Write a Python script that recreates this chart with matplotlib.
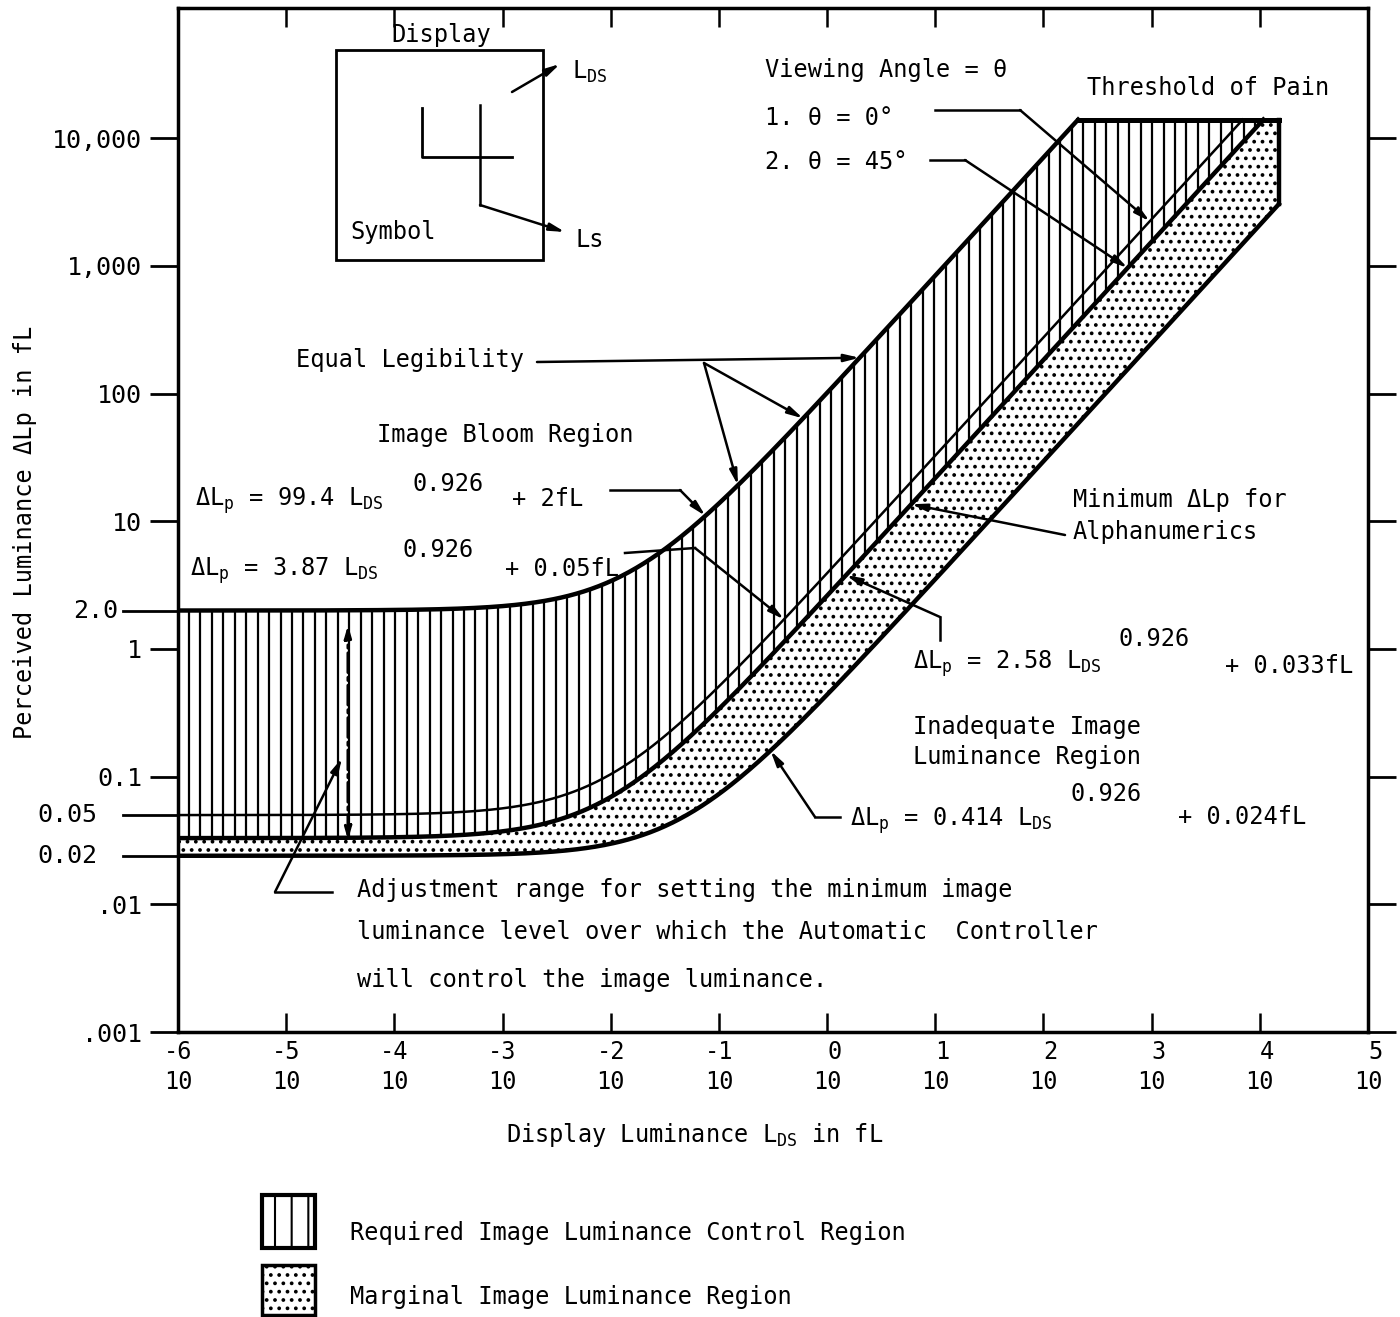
import numpy as np
import matplotlib
matplotlib.use("Agg")
import matplotlib.pyplot as plt
from matplotlib.patches import Rectangle
from matplotlib.ticker import NullLocator

# dLp = coef * Lds ** exponent + base   (fL)
exponent = 0.926
coef_bloom, base_bloom = 99.4, 2.0      # image bloom limit
coef_equal, base_equal = 3.87, 0.05     # equal legibility
coef_min, base_min = 2.58, 0.033        # minimum dLp for alphanumerics
coef_low, base_low = 0.414, 0.024       # inadequate image luminance limit
pain_level = 1.4e4                      # threshold of pain
lds_max = 1.5e4                         # right edge of the marginal region

xtick_exp = list(range(-6, 6))
ytick_vals = [1e-3, 1e-2, 1e-1, 1, 10, 100, 1000, 10000]
ytick_labels = [".001", ".01", "0.1", "1", "10", "100", "1,000", "10,000"]
extra_ylabels = ["2.0", "0.05", "0.02"]

plt.rcParams['font.family'] = ['DejaVu Sans Mono', 'DejaVu Sans']
plt.rcParams['mathtext.fontset'] = 'custom'
plt.rcParams['mathtext.rm'] = 'DejaVu Sans Mono'
plt.rcParams['hatch.linewidth'] = 1.5
FS = 17


def dlp(coef, base, L):
    return coef * np.asarray(L, dtype=float) ** exponent + base


def lds_at(coef, base, level):
    return ((level - base) / coef) ** (1 / exponent)


W, H = 1400, 1317
X0, X1, Y0, Y1 = 178, 1368, 8, 1032
fig = plt.figure(figsize=(W / 100, H / 100), dpi=100)
ax = fig.add_axes([X0 / W, 1 - Y1 / H, (X1 - X0) / W, (Y1 - Y0) / H])
ax.set_xscale('log')
ax.set_yscale('log')
ax.set_xlim(1e-6, 1e5)
ax.set_ylim(1e-3, 10 ** 5.02)


def A(x, y):
    # picture pixel -> axes fraction
    return ((x - X0) / (X1 - X0), (Y1 - y) / (Y1 - Y0))


# curves
end_bloom = lds_at(coef_bloom, base_bloom, pain_level)
end_equal = lds_at(coef_equal, base_equal, pain_level)
end_min = lds_at(coef_min, base_min, pain_level)

L1 = np.logspace(-6, np.log10(end_bloom), 600)
L2 = np.logspace(-6, np.log10(end_equal), 600)
L3 = np.logspace(-6, np.log10(end_min), 600)
L4 = np.logspace(-6, np.log10(lds_max), 600)

# marginal region (dots)
upper = np.minimum(dlp(coef_min, base_min, L4), pain_level)
ax.fill_between(L4, dlp(coef_low, base_low, L4), upper, facecolor='none',
                edgecolor='k', hatch='..', lw=0)

# required control region (vertical lines)
hx = 10 ** np.arange(-6 + 0.1, np.log10(end_min), 0.106)
ax.vlines(hx, dlp(coef_min, base_min, hx),
          np.minimum(dlp(coef_bloom, base_bloom, hx), pain_level),
          colors='k', lw=1.6)

ax.plot(L1, dlp(coef_bloom, base_bloom, L1), color='k', lw=3.2)
ax.plot(L2, dlp(coef_equal, base_equal, L2), color='k', lw=1.8)
ax.plot(L3, dlp(coef_min, base_min, L3), color='k', lw=3.2)
ax.plot(L4, dlp(coef_low, base_low, L4), color='k', lw=3.2)
ax.plot([end_bloom, lds_max], [pain_level, pain_level], color='k', lw=3.6)
ax.plot([lds_max, lds_max], [dlp(coef_low, base_low, lds_max), pain_level],
        color='k', lw=3.2)

# axes styling
for s in ax.spines.values():
    s.set_linewidth(2.5)
ax.set_xticks([10.0 ** e for e in xtick_exp])
ax.set_xticklabels([f"{e}\n10" for e in xtick_exp], multialignment='right',
                   linespacing=1.3, fontsize=FS)
ax.set_yticks(ytick_vals)
ax.set_yticklabels(ytick_labels, fontsize=FS + 1)
ax.xaxis.set_minor_locator(NullLocator())
ax.yaxis.set_minor_locator(NullLocator())
ax.tick_params(axis='x', direction='in', length=14, width=1.8, top=True,
               bottom=True, pad=6)
ax.tick_params(axis='y', direction='out', length=20, width=2, left=True,
               right=True, pad=6)

# start values marked to the left of the axis
starts = [dlp(coef_bloom, base_bloom, 1e-6), dlp(coef_equal, base_equal, 1e-6),
          dlp(coef_low, base_low, 1e-6)]
yt = ax.get_yaxis_transform()
for val, lab, xr in zip(starts, extra_ylabels, [-0.05, -0.068, -0.068]):
    ax.plot([-0.046, 0], [val, val], transform=yt, clip_on=False, color='k', lw=2)
    ax.text(xr, val, lab, transform=yt, ha='right', va='center', fontsize=FS + 1)

fig.text(25 / W, 1 - 532 / H, r"Perceived Luminance ΔLp in fL", rotation=90,
         ha='center', va='center', fontsize=FS)
fig.text(695 / W, 1 - 1135 / H, r"Display Luminance L$_{\mathregular{DS}}$ in fL",
         ha='center', va='center', fontsize=FS)

ARROW = dict(arrowstyle='-|>,head_width=0.22,head_length=0.9', color='k',
             lw=1.8, shrinkA=0, shrinkB=0)


def leader(path, target, coords='data'):
    pts = [A(*p) for p in path]
    if len(pts) > 1:
        ax.plot([p[0] for p in pts], [p[1] for p in pts], transform=ax.transAxes,
                color='k', lw=1.8, clip_on=False)
    ax.annotate('', xy=target, xycoords=coords, xytext=pts[-1],
                textcoords='axes fraction', arrowprops=ARROW)


def txt(x, y, s, **kw):
    kw.setdefault('ha', 'left')
    kw.setdefault('va', 'center')
    ax.text(*A(x, y), s, transform=ax.transAxes, fontsize=FS, **kw)


# equal legibility
txt(296, 360, "Equal Legibility")
leader([(537, 362)], (2.0, dlp(coef_bloom, base_bloom, 2.0)))
leader([(704, 363)], (0.6, dlp(coef_bloom, base_bloom, 0.6)))
leader([(704, 363)], (0.15, dlp(coef_bloom, base_bloom, 0.15)))

txt(505, 435, "Image Bloom Region", ha='center')


# equations
def equation(x, yb, ysup, xsup, xplus, coef, base_txt, yplus=None):
    txt(x, yb, r"ΔL$_{\mathregular{p}}$ = " + coef + r" L$_{\mathregular{DS}}$",
        va='baseline')
    txt(xsup, ysup, "0.926", va='baseline')
    txt(xplus, yb if yplus is None else yplus, "+ " + base_txt, va='baseline')


equation(195, 506, 491, 412, 512, "99.4", "2fL")
equation(190, 576, 557, 402, 505, "3.87", "0.05fL")
equation(913, 669, 646, 1118, 1225, "2.58", "0.033fL", 673)
equation(850, 826, 801, 1070, 1178, "0.414", "0.024fL", 824)

leader([(610, 490), (680, 490)], (0.075, dlp(coef_bloom, base_bloom, 0.075)))
leader([(625, 553), (695, 548)], (0.4, dlp(coef_equal, base_equal, 0.4)))
leader([(940, 640), (940, 617)], (1.5, dlp(coef_min, base_min, 1.5)))
leader([(840, 817), (815, 817)], (0.3, dlp(coef_low, base_low, 0.3)))

# minimum for alphanumerics
txt(1073, 500, "Minimum ΔLp for")
txt(1073, 532, "Alphanumerics")
leader([(1065, 535)], (6.0, dlp(coef_min, base_min, 6.0)))

txt(913, 727, "Inadequate Image")
txt(913, 757, "Luminance Region")

# viewing angle
txt(765, 70, "Viewing Angle = θ")
txt(765, 118, "1. θ = 0°")
txt(765, 162, "2. θ = 45°")
leader([(935, 110), (1020, 110)], (960, dlp(coef_equal, base_equal, 960)))
leader([(930, 160), (965, 160)], (600, dlp(coef_min, base_min, 600)))
txt(1087, 88, "Threshold of Pain")

# adjustment range
ax.annotate('', xy=A(348, 625), xycoords='axes fraction', xytext=A(348, 840),
            textcoords='axes fraction',
            arrowprops=dict(arrowstyle='<|-|>,head_width=0.2,head_length=0.7',
                            color='k', lw=2.2, ls='-.', shrinkA=0, shrinkB=0))
leader([(332, 892), (275, 892)], A(342, 758), coords='axes fraction')
txt(357, 890, "Adjustment range for setting the minimum image")
txt(357, 932, "luminance level over which the Automatic  Controller")
txt(357, 980, "will control the image luminance.")

# display / symbol sketch
bx0, by0 = A(336, 260)
bx1, by1 = A(543, 50)
ax.add_patch(Rectangle((bx0, by0), bx1 - bx0, by1 - by0, transform=ax.transAxes,
                       fill=False, lw=2, color='k'))
txt(441, 35, "Display", ha='center')
txt(350, 232, "Symbol")
ax.annotate('', xy=A(560, 64), xycoords='axes fraction', xytext=A(512, 92),
            textcoords='axes fraction', arrowprops=ARROW)
txt(572, 72, r"L$_{\mathregular{DS}}$")
sym = [A(422, 108), A(422, 157), A(512, 157)]
ax.plot([p[0] for p in sym], [p[1] for p in sym], transform=ax.transAxes,
        color='k', lw=2)
leader([(480, 105), (480, 205)], A(565, 232), coords='axes fraction')
txt(575, 240, "Ls")

# legend
fig.add_artist(Rectangle((262 / W, 1 - 1248 / H), 53 / W, 53 / H,
                         transform=fig.transFigure, fill=False, hatch='|',
                         lw=3, color='k'))
fig.add_artist(Rectangle((262 / W, 1 - 1315 / H), 53 / W, 50 / H,
                         transform=fig.transFigure, fill=False, hatch='..',
                         lw=2.5, color='k'))
fig.text(350 / W, 1 - 1233 / H, "Required Image Luminance Control Region",
         ha='left', va='center', fontsize=FS)
fig.text(350 / W, 1 - 1297 / H, "Marginal Image Luminance Region",
         ha='left', va='center', fontsize=FS)

fig.savefig("out.png", dpi=100)
